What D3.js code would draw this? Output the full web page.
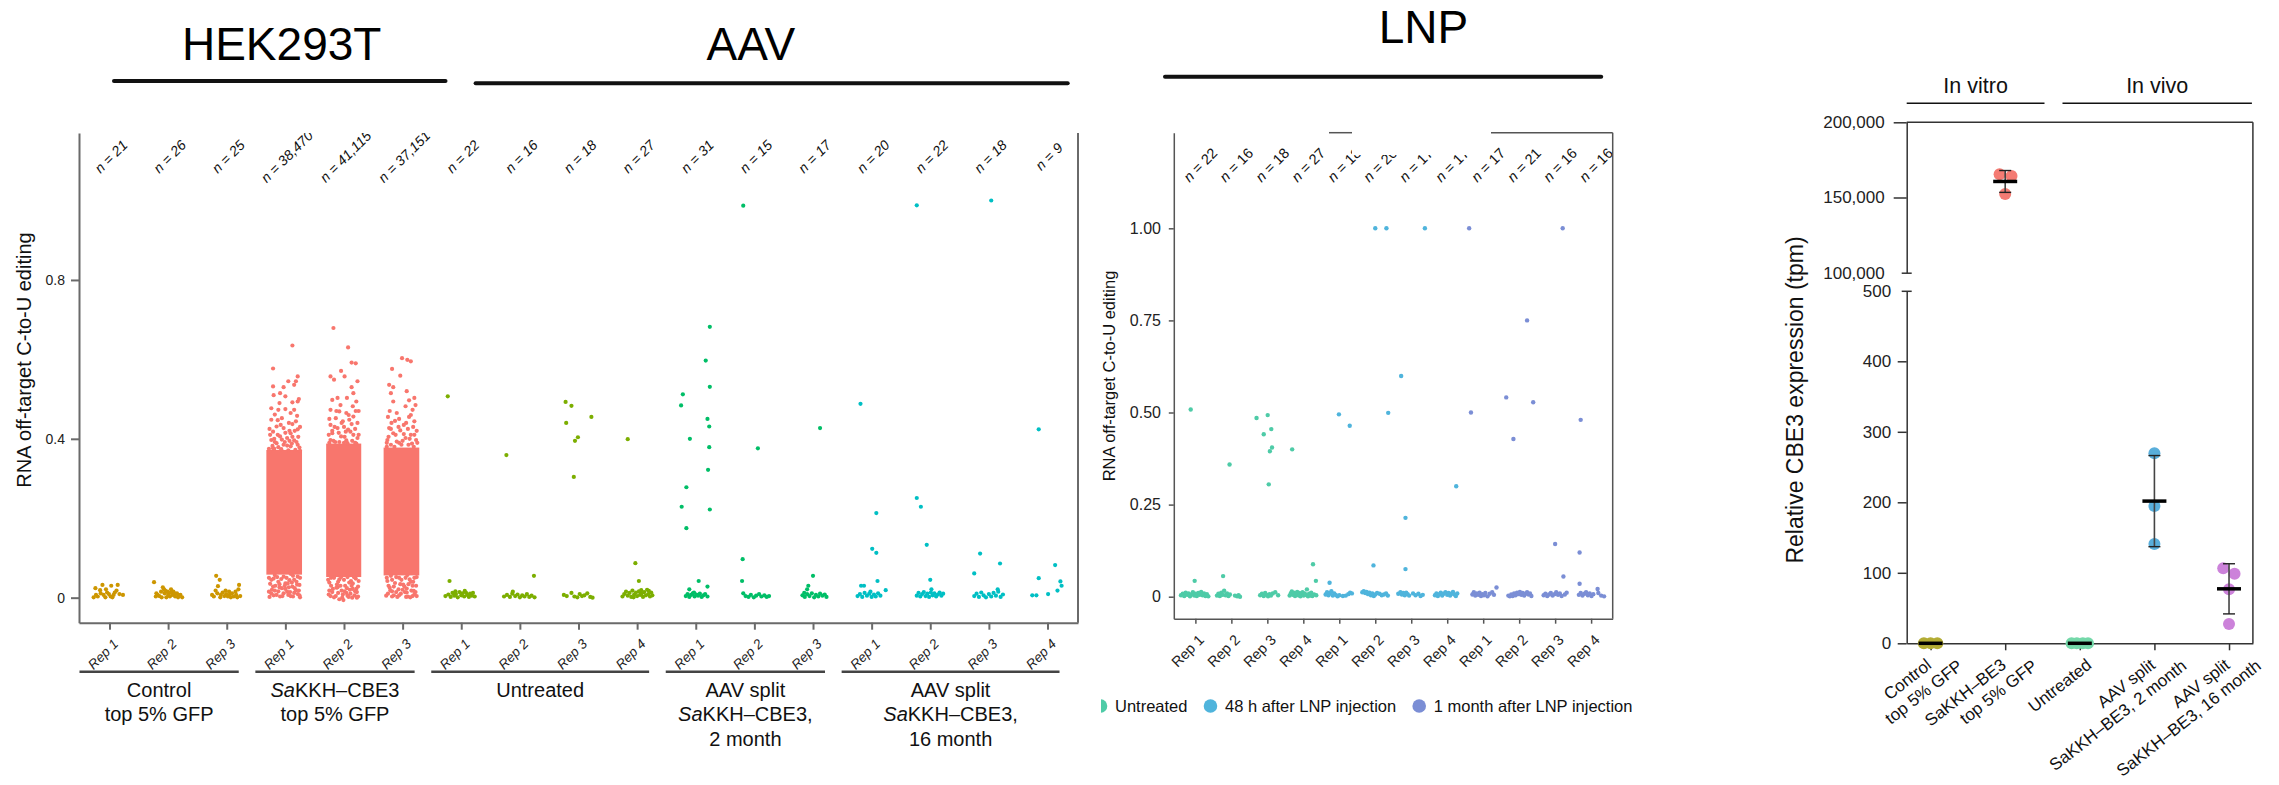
<!DOCTYPE html>
<html>
<head>
<meta charset="utf-8">
<script src="https://cdn.jsdelivr.net/npm/d3@7"></script>
<style>
  html, body { margin: 0; padding: 0; background: #fff; }
  svg { display: block; font-family: "Liberation Sans", Arial, Helvetica, sans-serif; }
</style>
</head>
<body>
<svg id="fig" width="2279" height="785"></svg>
<script>
// ================= DATA =================

// ---- Panel A: HEK293T and AAV samples, RNA off-target C-to-U editing ----
const repLabelsA = ["Rep 1","Rep 2","Rep 3","Rep 1","Rep 2","Rep 3","Rep 1","Rep 2","Rep 3","Rep 4",
                    "Rep 1","Rep 2","Rep 3","Rep 1","Rep 2","Rep 3","Rep 4"];
const siteCountsA = [21,26,25,38470,41115,37151,22,16,18,27,31,15,17,20,22,18,9];
const groupsA = [
  { lines: ["Control", "top 5% GFP"], reps: [0,1,2] },
  { lines: ["SaKKH–CBE3", "top 5% GFP"], reps: [3,4,5] },
  { lines: ["Untreated"], reps: [6,7,8,9] },
  { lines: ["AAV split", "SaKKH–CBE3,", "2 month"], reps: [10,11,12] },
  { lines: ["AAV split", "SaKKH–CBE3,", "16 month"], reps: [13,14,15,16] }
];
const groupColorsA = ["#CD9600", "#F8766D", "#7CAE00", "#00BE67", "#00BFC4"];
const yTicksA = [0, 0.4, 0.8];

// each point: [horizontal jitter in category steps, editing fraction]
const controlRep1 = [[-0.24,0.024],[-0.12,0.032],[0.03,0.03],[0.14,0.032],[0.23,0.007],[-0.15,0.011],[-0.2,0.003],
  [-0.07,0.001],[-0.04,0.013],[0.07,0.007],[0.09,0.013],[0.02,0.003],[-0.23,0.007],[-0.1,0.007],[0.12,0.018],
  [-0.01,0.009],[-0.16,0.019],[-0.06,0.021],[0.17,0.009],[-0.27,0.001],[0.05,0.001]];
const controlRep2 = [[-0.24,0.039],[-0.09,0.026],[0.05,0.021],[0.09,0.015],[0.18,0.007],[0.24,0.001],[-0.21,0.003],
  [-0.15,0.004],[-0.06,0.011],[-0.03,0.001],[0,0.007],[0.03,0.003],[0.12,0.003],[0.15,0.011],[0.21,0.007],
  [-0.12,0.015],[-0.18,0.007],[-0.07,0.021],[0.07,0.007],[-0.01,0.015],[0.17,0.001],[-0.11,0.001],[0.11,0.011],
  [-0.05,0.018],[0.04,0.013],[-0.2,0.011]];
const controlRep3 = [[-0.18,0.055],[-0.12,0.045],[-0.15,0.029],[0.21,0.032],[0.15,0.015],[0.2,0.021],[0.23,0.004],
  [-0.25,0.007],[-0.22,0.003],[-0.16,0.011],[-0.1,0.007],[-0.07,0.013],[-0.04,0.004],[-0.01,0.009],[0.02,0.003],
  [0.05,0.007],[0.09,0.011],[0.12,0.003],[0.16,0.007],[-0.19,0.018],[-0.02,0.018],[0.07,0.001],[-0.11,0.001],
  [0.04,0.015],[0.18,0.001]];

// SaKKH–CBE3 replicates: tens of thousands of sites form a solid band (core) plus scattered sites around it
const hekCoreA = [
  { rep: 3, jitter: [-0.29, 0.25], value: [0.058, 0.372] },
  { rep: 4, jitter: [-0.27, 0.26], value: [0.052, 0.388] },
  { rep: 5, jitter: [-0.29, 0.25], value: [0.056, 0.378] }
];
const hekRep1 = [[0.12,0.635],[-0.21,0.577],[0.21,0.557],[0.18,0.545],[0.05,0.545],[0.15,0.536],[-0.21,0.532],
  [-0.03,0.53],[-0.09,0.515],[0,0.507],[0.12,0.492],[0.21,0.494],[-0.24,0.477],[-0.12,0.473],[0,0.475],[0.09,0.465],
  [-0.18,0.461],[0.15,0.473],[-0.06,0.452],[-0.24,0.448],[0.18,0.444],[0.06,0.44],[-0.15,0.431],[-0.03,0.427],
  [-0.21,0.418],[0.21,0.424],[0.09,0.414],[-0.09,0.406],[0.03,0.402],[-0.24,0.397],[0.15,0.396],[-0.15,0.389],
  [-0.03,0.385],[0.09,0.381],[0.21,0.385],[-0.21,0.376],[-0.07,0.374],[0.05,0.371],[0.17,0.372],[-0.27,0.368],
  [0.24,0.378],[-0.18,0.392],[0.12,0.405],[-0.26,0.41],[0.2,0.458],[-0.1,0.49],[0.23,0.5],[-0.2,0.51],[0.07,0.42],
  [-0.13,0.447],
  [-0.28,0.375],[-0.22,0.382],[-0.12,0.379],[-0.01,0.392],[0.03,0.383],[0.11,0.388],[0.19,0.392],[0.25,0.37],
  [-0.19,0.4],[-0.06,0.398],[0.07,0.395],[0.22,0.405],[-0.13,0.41],[0,0.415],[0.16,0.42],[-0.27,0.425],
  [-0.08,0.435],[0.12,0.437],[0.25,0.43],[-0.19,0.375],
  [-0.18,0.057],[-0.03,0.053],[0.09,0.06],[0.21,0.053],[-0.24,0.045],[-0.12,0.04],[0,0.036],[0.15,0.045],
  [0.24,0.032],[-0.21,0.028],[-0.06,0.024],[0.06,0.026],[0.18,0.019],[-0.24,0.011],[-0.15,0.007],[-0.03,0.011],
  [0.09,0.004],[0.21,0.009],[-0.09,0.003],[0.03,0.015],[-0.18,0.018],[0.13,0.003],[-0.27,0.002],[0.25,0.001],
  [-0.1,0.034],[0.11,0.038],
  [-0.28,0.05],[-0.2,0.048],[-0.14,0.052],[-0.07,0.047],[0.02,0.05],[0.07,0.044],[0.13,0.055],[0.19,0.04],
  [0.25,0.05],[-0.26,0.035],[-0.17,0.03],[-0.1,0.026],[-0.01,0.03],[0.04,0.036],[0.12,0.028],[0.2,0.033],
  [-0.23,0.02],[-0.12,0.016],[0,0.022],[0.08,0.014],[0.16,0.024],[0.23,0.018],[-0.2,0.006],[-0.05,0.004],
  [0.05,0.007],[0.15,0.012],[-0.28,0.015],[0.24,0.006]];
const hekRep2 = [[-0.18,0.679],[0.07,0.63],[0.13,0.592],[0.2,0.59],[-0.05,0.571],[0.01,0.557],[-0.23,0.557],
  [-0.17,0.549],[0.23,0.545],[0.13,0.53],[0.16,0.515],[-0.2,0.498],[-0.11,0.503],[0.05,0.503],[0.21,0.494],
  [0.15,0.482],[-0.23,0.473],[-0.08,0.469],[0.04,0.465],[-0.14,0.452],[0.16,0.456],[-0.02,0.444],[-0.23,0.435],
  [0.23,0.44],[-0.11,0.427],[0.07,0.423],[-0.2,0.414],[0.16,0.41],[-0.05,0.406],[0.23,0.402],[-0.23,0.397],
  [0.04,0.396],[0.11,0.418],[-0.15,0.392],[0.19,0.39],[-0.26,0.41],[0,0.43],[0.25,0.47],[-0.06,0.485],[0.09,0.448],
  [-0.25,0.39],[-0.18,0.395],[-0.08,0.392],[0.01,0.405],[0.06,0.389],[0.14,0.395],[0.21,0.388],[0.25,0.41],
  [-0.2,0.42],[-0.09,0.415],[0.03,0.418],[0.19,0.425],[-0.16,0.43],[-0.04,0.44],[0.13,0.437],[-0.25,0.45],
  [0.08,0.46],[-0.13,0.47],[0.2,0.47],[0,0.39],
  [-0.22,0.05],[-0.08,0.046],[0.06,0.052],[0.2,0.048],[-0.25,0.038],[-0.12,0.033],[0.02,0.03],[0.15,0.036],
  [0.24,0.028],[-0.19,0.022],[-0.04,0.018],[0.1,0.02],[0.22,0.014],[-0.26,0.008],[-0.14,0.004],[-0.02,0.008],
  [0.08,0.002],[0.18,0.006],[-0.08,-0.004],[0.04,0.012],[-0.2,0.014],[0.14,0],[0.24,0.003],[-0.11,0.026],
  [0.12,0.042],[-0.01,-0.006],
  [-0.27,0.045],[-0.17,0.05],[-0.1,0.04],[0,0.045],[0.09,0.038],[0.17,0.052],[0.25,0.042],[-0.22,0.03],
  [-0.13,0.025],[-0.06,0.03],[0.05,0.024],[0.13,0.03],[0.21,0.022],[-0.25,0.018],[-0.1,0.012],[0.01,0.016],
  [0.11,0.01],[0.19,0.016],[-0.17,0.001],[-0.03,0],[0.06,0.005],[0.22,0],[-0.23,0.004],[0.15,0.022],[-0.05,0.052]];
const hekRep3 = [[-0.01,0.603],[0.08,0.599],[0.14,0.595],[-0.18,0.576],[-0.04,0.559],[-0.23,0.536],[-0.16,0.53],
  [0.2,0.503],[0.11,0.497],[-0.2,0.515],[0.05,0.482],[0.17,0.473],[-0.16,0.494],[-0.1,0.465],[-0.23,0.427],
  [0.02,0.435],[0.2,0.444],[0.11,0.455],[-0.16,0.414],[-0.04,0.421],[0.14,0.41],[-0.26,0.397],[0.05,0.402],
  [0.23,0.397],[-0.1,0.393],[-0.22,0.47],[0.22,0.485],[-0.06,0.45],[0.09,0.425],[-0.19,0.44],[0.16,0.388],
  [-0.02,0.385],[0.24,0.42],[-0.27,0.38],[0.07,0.52],
  [-0.27,0.39],[-0.2,0.385],[-0.14,0.38],[-0.06,0.39],[0,0.395],[0.1,0.385],[0.19,0.38],[0.25,0.39],
  [-0.24,0.405],[-0.12,0.41],[0.02,0.412],[0.12,0.4],[0.2,0.41],[-0.2,0.425],[-0.07,0.43],[0.06,0.44],
  [0.18,0.43],[-0.13,0.445],[0.14,0.46],[-0.25,0.455],
  [-0.2,0.055],[-0.06,0.05],[0.08,0.057],[0.2,0.05],[-0.26,0.042],[-0.13,0.037],[0.01,0.033],[0.14,0.04],
  [0.23,0.03],[-0.22,0.025],[-0.07,0.021],[0.07,0.023],[0.19,0.017],[-0.25,0.01],[-0.15,0.006],[-0.03,0.01],
  [0.09,0.003],[0.2,0.008],[-0.09,0.002],[0.04,0.014],[-0.18,0.016],[0.13,0.001],[0.24,0.004],
  [-0.27,0.05],[-0.18,0.045],[-0.11,0.052],[-0.02,0.045],[0.05,0.05],[0.12,0.046],[0.18,0.04],[0.24,0.052],
  [-0.24,0.03],[-0.15,0.028],[-0.04,0.034],[0.03,0.028],[0.1,0.034],[0.17,0.03],[-0.21,0.018],[-0.11,0.014],
  [0,0.02],[0.07,0.013],[0.15,0.018],[0.22,0.014],[-0.28,0.005],[-0.06,0.006],[0.06,0.002],[0.17,0.004],
  [-0.18,0.003]];

const untreatedRep1 = [[-0.23,0.507],[-0.2,0.042],[-0.27,0.004],[-0.22,0.008],[-0.18,0.002],[-0.15,0.012],
  [-0.12,0.005],[-0.09,0.009],[-0.06,0.001],[-0.03,0.014],[0,0.006],[0.02,0.011],[0.05,0.003],[0.08,0.013],
  [0.1,0.007],[0.13,0.002],[0.15,0.01],[0.18,0.005],[0.2,0.012],[0.23,0.003],[-0.1,0.016],[0.06,0.017]];
const untreatedRep2 = [[-0.23,0.359],[0.24,0.055],[-0.12,0.015],[-0.27,0.003],[-0.22,0.007],[-0.17,0.002],
  [-0.13,0.01],[-0.08,0.004],[-0.04,0.008],[0,0.001],[0.04,0.006],[0.08,0.003],[0.12,0.009],[0.16,0.002],
  [0.2,0.005],[0.25,0.001]];
const untreatedRep3 = [[-0.22,0.493],[-0.12,0.483],[-0.21,0.44],[0.22,0.455],[-0.01,0.404],[-0.06,0.395],
  [-0.08,0.304],[-0.2,0.004],[-0.12,0.012],[-0.07,0.003],[0.02,0.009],[0.1,0.006],[0.2,0.002],[0.24,0],
  [-0.25,0.007],[0.15,0.011],[-0.02,0.001],[0.06,0.004]];
const untreatedRep4 = [[-0.16,0.399],[-0.03,0.087],[0.03,0.042],[-0.25,0.003],[-0.22,0.009],[-0.19,0.015],
  [-0.16,0.005],[-0.13,0.012],[-0.1,0.002],[-0.08,0.018],[-0.05,0.008],[-0.02,0.013],[0,0.004],[0.03,0.016],
  [0.05,0.007],[0.08,0.011],[0.1,0.002],[0.12,0.014],[0.15,0.006],[0.17,0.02],[0.19,0.009],[0.22,0.003],
  [0.24,0.013],[0.26,0.006],[-0.06,0.001],[0.07,0.019],[0.2,0.017]];

const aav2mRep1 = [[-0.22,0.512],[-0.25,0.484],[-0.1,0.4],[0.24,0.682],[0.17,0.597],[0.24,0.531],[0.2,0.45],
  [0.23,0.431],[0.23,0.379],[0.21,0.322],[-0.16,0.278],[-0.24,0.229],[0.24,0.222],[-0.16,0.175],[0.05,0.042],
  [-0.11,0.021],[0.2,0.028],[-0.17,0.004],[-0.14,0.009],[-0.11,0.002],[-0.08,0.007],[-0.05,0.011],[-0.02,0.003],
  [0.01,0.008],[0.04,0.005],[0.07,0.01],[0.1,0.002],[0.13,0.006],[0.16,0.009],[0.2,0.003],[-0.03,0.013]];
const aav2mRep2 = [[-0.19,0.987],[0.06,0.376],[-0.2,0.097],[-0.21,0.042],[-0.19,0.011],[-0.15,0.004],[-0.1,0.002],
  [-0.06,0.007],[-0.01,0.001],[0.03,0.005],[0.08,0.009],[0.12,0.003],[0.17,0.006],[0.21,0.002],[0.25,0.004]];
const aav2mRep3 = [[0.12,0.427],[0,0.055],[-0.1,0.021],[-0.08,0.03],[-0.18,0.006],[-0.14,0.002],[-0.1,0.009],
  [-0.06,0.004],[-0.02,0.011],[0.02,0.001],[0.05,0.007],[0.09,0.003],[0.12,0.01],[0.16,0.005],[0.2,0.008],
  [0.23,0.002],[-0.15,0.012]];

const aav16mRep1 = [[-0.19,0.488],[0.08,0.213],[0.01,0.123],[0.08,0.113],[0.1,0.042],[0.24,0.019],[-0.18,0.03],
  [-0.13,0.03],[-0.24,0.004],[-0.2,0.009],[-0.16,0.002],[-0.12,0.012],[-0.08,0.005],[-0.04,0.01],[0,0.002],
  [0.04,0.008],[0.07,0.003],[0.11,0.011],[0.15,0.005],[-0.02,0.015]];
const aav16mRep2 = [[-0.23,0.988],[-0.23,0.251],[-0.16,0.229],[-0.06,0.133],[0,0.045],[0.02,0.021],[-0.23,0.005],
  [-0.2,0.012],[-0.17,0.003],[-0.14,0.009],[-0.11,0.014],[-0.08,0.004],[-0.05,0.01],[-0.02,0.002],[0.01,0.013],
  [0.04,0.006],[0.07,0.011],[0.1,0.003],[0.13,0.008],[0.16,0.013],[0.19,0.005],[0.22,0.01]];
const aav16mRep3 = [[0.04,1.0],[-0.15,0.111],[0.19,0.086],[-0.25,0.061],[0.15,0.021],[-0.25,0.004],[-0.21,0.01],
  [-0.17,0.002],[-0.13,0.013],[-0.09,0.006],[-0.05,0.001],[0,0.009],[0.04,0.003],[0.08,0.012],[0.12,0.005],
  [0.16,0.015],[0.2,0.002],[0.24,0.008]];
const aav16mRep4 = [[-0.15,0.424],[0.13,0.082],[-0.15,0.049],[0.22,0.041],[0.17,0.018],[-0.26,0.006],
  [-0.19,0.006],[0.01,0.009],[0.24,0.03]];

const pointsA = [controlRep1, controlRep2, controlRep3, hekRep1, hekRep2, hekRep3,
  untreatedRep1, untreatedRep2, untreatedRep3, untreatedRep4, aav2mRep1, aav2mRep2, aav2mRep3,
  aav16mRep1, aav16mRep2, aav16mRep3, aav16mRep4];

// ---- Panel B: LNP delivery ----
const repLabelsB = ["Rep 1","Rep 2","Rep 3","Rep 4","Rep 1","Rep 2","Rep 3","Rep 4","Rep 1","Rep 2","Rep 3","Rep 4"];
const siteCountsB = [22,16,18,27,18,20,17,17,17,21,16,16];
const conditionsB = ["Untreated", "48 h after LNP injection", "1 month after LNP injection"];
const conditionColorsB = ["#4ECBA7", "#4FB4DC", "#7B8ED5"];
const yTicksB = [0, 0.25, 0.5, 0.75, 1];

const lnpUntreated1 = [[-0.13,0.508],[-0.02,0.043],[-0.4,0.004],[-0.35,0.008],[-0.31,0.002],[-0.27,0.011],
  [-0.23,0.005],[-0.19,0.009],[-0.15,0.001],[-0.11,0.006],[-0.07,0.012],[-0.03,0.003],[0,0.008],[0.04,0.002],
  [0.08,0.01],[0.12,0.005],[0.16,0.013],[0.2,0.004],[0.24,0.009],[0.28,0.002],[0.32,0.007],[0.36,0.001]];
const lnpUntreated2 = [[-0.05,0.359],[-0.23,0.056],[-0.2,0.016],[-0.4,0.003],[-0.36,0.008],[-0.32,0.002],
  [-0.28,0.011],[-0.24,0.005],[-0.16,0.004],[-0.12,0.009],[-0.08,0.002],[-0.04,0.006],[0.1,0.003],[0.16,0.001],
  [0.2,0.004],[0.24,0]];
const lnpUntreated3 = [[-0.3,0.485],[0.01,0.493],[-0.1,0.441],[0.11,0.455],[0.13,0.405],[0.07,0.395],[0.04,0.305],
  [-0.2,0.004],[-0.15,0.008],[-0.1,0.002],[-0.06,0.01],[-0.02,0.005],[0.02,0.001],[0.06,0.007],[0.1,0.003],
  [0.15,0.009],[0.22,0.012],[0.3,0.004]];
const lnpUntreated4 = [[-0.31,0.4],[0.27,0.088],[0.35,0.043],[0.1,0.02],[-0.38,0.003],[-0.35,0.009],[-0.32,0.014],
  [-0.29,0.005],[-0.26,0.011],[-0.23,0.002],[-0.2,0.008],[-0.17,0.013],[-0.14,0.004],[-0.11,0.01],[-0.08,0.001],
  [-0.05,0.007],[-0.02,0.012],[0.01,0.003],[0.04,0.009],[0.07,0.005],[0.13,0.001],[0.16,0.008],[0.19,0.003],
  [0.22,0.011],[0.25,0.002],[0.3,0.006],[0.36,0.004]];
const lnp48h1 = [[-0.01,0.495],[0.29,0.464],[-0.27,0.038],[-0.38,0.006],[-0.34,0.012],[-0.3,0.004],[-0.26,0.01],
  [-0.22,0.015],[-0.18,0.003],[-0.14,0.009],[-0.1,0.005],[-0.05,0.001],[0,0.004],[0.1,0.002],[0.18,0.003],
  [0.25,0.007],[0.3,0.011],[0.35,0.009]];
const lnp48h2 = [[0,1.0],[0.31,1.0],[0.36,0.499],[-0.05,0.085],[-0.36,0.012],[-0.32,0.015],[-0.28,0.01],
  [-0.24,0.013],[-0.2,0.007],[-0.16,0.011],[-0.12,0.004],[-0.08,0.009],[-0.04,0.002],[0,0.006],[0.05,0.01],
  [0.12,0.008],[0.18,0.004],[0.24,0.006],[0.3,0.009],[0.35,0.003]];
const lnp48h3 = [[-0.28,0.599],[0.38,1.0],[-0.16,0.214],[-0.16,0.075],[-0.36,0.008],[-0.3,0.012],[-0.26,0.006],
  [-0.22,0.01],[-0.18,0.004],[-0.14,0.011],[-0.1,0.007],[-0.06,0.003],[0.05,0.009],[0.12,0.004],[0.2,0.008],
  [0.26,0.002],[0.32,0.005]];
const lnp48h4 = [[0.25,0.3],[-0.34,0.004],[-0.3,0.009],[-0.26,0.002],[-0.22,0.007],[-0.18,0.011],[-0.14,0.003],
  [-0.1,0.008],[-0.05,0.012],[0,0.005],[0.04,0.01],[0.08,0.003],[0.12,0.008],[0.16,0.013],[0.2,0.006],
  [0.24,0.002],[0.28,0.009]];
const lnp1mo1 = [[-0.39,1.0],[-0.34,0.5],[0.37,0.025],[-0.3,0.006],[-0.26,0.012],[-0.22,0.003],[-0.18,0.009],
  [-0.14,0.005],[-0.1,0.011],[-0.06,0.002],[-0.02,0.007],[0.02,0.004],[0.06,0.01],[0.12,0.001],[0.18,0.008],
  [0.25,0.012],[0.3,0.005]];
const lnp1mo2 = [[-0.36,0.541],[0.22,0.75],[0.39,0.528],[-0.16,0.428],[-0.3,0.003],[-0.26,0.001],[-0.22,0.006],
  [-0.18,0.002],[-0.14,0.009],[-0.1,0.004],[-0.06,0.011],[-0.02,0.007],[0.02,0.013],[0.06,0.005],[0.1,0.01],
  [0.14,0.003],[0.18,0.008],[0.22,0.012],[0.26,0.006],[0.3,0.009],[0.34,0.002]];
const lnp1mo3 = [[0.21,1.0],[0,0.143],[0.23,0.055],[-0.32,0.004],[-0.27,0.008],[-0.22,0.002],[-0.17,0.006],
  [-0.12,0.01],[-0.07,0.003],[-0.02,0.007],[0.03,0.012],[0.08,0.005],[0.13,0.009],[0.18,0.002],[0.27,0.006],
  [0.32,0.011]];
const lnp1mo4 = [[-0.29,0.48],[-0.32,0.12],[-0.32,0.035],[0.18,0.021],[-0.34,0.005],[-0.29,0.01],[-0.24,0.003],
  [-0.19,0.008],[-0.14,0.012],[-0.09,0.004],[-0.04,0.009],[0.01,0.002],[0.06,0.007],[0.2,0.01],[0.28,0.003],
  [0.36,0.001]];

const pointsB = [lnpUntreated1, lnpUntreated2, lnpUntreated3, lnpUntreated4, lnp48h1, lnp48h2, lnp48h3, lnp48h4,
  lnp1mo1, lnp1mo2, lnp1mo3, lnp1mo4];

// ---- Panel C: CBE3 transcript expression ----
const samplesC = [["Control", "top 5% GFP"], ["SaKKH–BE3", "top 5% GFP"], ["Untreated"],
  ["AAV split", "SaKKH–BE3, 2 month"], ["AAV split", "SaKKH–BE3, 16 month"]];
const tpmC = [[0, 0, 0], [165400, 164300, 152300], [0, 0, 0, 0], [269.5, 194.8, 140.8], [106.4, 98.7, 76.6, 27.4]];
const jitterC = [[-0.09, 0, 0.09], [-0.075, 0.085, 0], [-0.11, -0.04, 0.04, 0.11], [0, 0, 0], [-0.078, 0.074, 0, 0]];
const colorsC = ["#B3AC34", "#F47B73", "#74D8A9", "#59AEDB", "#CC82DA"];
const upperTicksC = [100000, 150000, 200000];
const lowerTicksC = [0, 100, 200, 300, 400, 500];
const settingsC = ["In vitro", "In vivo"];

// ================= DRAWING =================
const FONT = '"Liberation Sans", Arial, Helvetica, sans-serif';
const svg = d3.select("#fig");
const defs = svg.append("defs");

function styleAxis(g, color, width, size) {
  g.attr("font-family", FONT).attr("font-size", size);
  g.select(".domain").attr("stroke", color).attr("stroke-width", width);
  g.selectAll(".tick line").attr("stroke", color).attr("stroke-width", width);
  g.selectAll(".tick text").attr("fill", "#222");
}

// Write "SaKKH..." with the species prefix in italics
function richLine(sel, str) {
  if (str.startsWith("Sa")) {
    sel.append("tspan").attr("font-style", "italic").text("Sa");
    sel.append("tspan").text(str.slice(2));
  } else sel.text(str);
}

// ---------- Headers ----------
const headers = [
  { text: "HEK293T", cx: 281.7, base: 60, x0: 114, x1: 445.5, ly: 81 },
  { text: "AAV", cx: 750.8, base: 60, x0: 475.6, x1: 1067.7, ly: 83.3 },
  { text: "LNP", cx: 1423.5, base: 43.3, x0: 1165, x1: 1601.2, ly: 76.7 }
];
headers.forEach(h => {
  svg.append("text").attr("x", h.cx).attr("y", h.base).attr("text-anchor", "middle")
    .attr("font-size", 46).attr("fill", "#000").text(h.text);
  svg.append("line").attr("x1", h.x0).attr("x2", h.x1).attr("y1", h.ly).attr("y2", h.ly)
    .attr("stroke", "#111").attr("stroke-width", 4).attr("stroke-linecap", "round");
});

// ---------- Panel A ----------
const A = { l: 79, r: 1078, t: 133, b: 622.7 };
const xA = d3.scalePoint().domain(d3.range(repLabelsA.length)).range([A.l, A.r]).padding(0.52);
const yA = d3.scaleLinear().domain([-0.063, 1.17]).range([A.b, A.t]);
const stepA = xA.step();
const repGroupA = repLabelsA.map((_, i) => groupsA.findIndex(g => g.reps.includes(i)));

defs.append("clipPath").attr("id", "clipA").append("rect")
  .attr("x", A.l).attr("y", A.t).attr("width", A.r - A.l).attr("height", A.b - A.t);
const plotA = svg.append("g").attr("clip-path", "url(#clipA)");

plotA.selectAll("rect.core").data(hekCoreA).join("rect").attr("class", "core")
  .attr("x", d => xA(d.rep) + d.jitter[0] * stepA - 2)
  .attr("width", d => (d.jitter[1] - d.jitter[0]) * stepA + 4)
  .attr("y", d => yA(d.value[1]))
  .attr("height", d => yA(d.value[0]) - yA(d.value[1]))
  .attr("fill", groupColorsA[1]);

const flatA = [];
pointsA.forEach((arr, i) => arr.forEach(([j, v]) => flatA.push({ i, j, v })));
plotA.selectAll("circle").data(flatA).join("circle")
  .attr("cx", d => xA(d.i) + d.j * stepA)
  .attr("cy", d => yA(d.v))
  .attr("r", 2.1)
  .attr("fill", d => groupColorsA[repGroupA[d.i]]);

plotA.selectAll("text.n").data(siteCountsA).join("text").attr("class", "n")
  .attr("transform", (d, i) => `translate(${xA(i) + 5},160) rotate(-45)`)
  .attr("text-anchor", "middle").attr("font-size", 14).attr("font-style", "italic").attr("fill", "#111")
  .text(d => "n = " + d3.format(",")(d));

const axA = svg.append("g").attr("transform", `translate(${A.l},0)`)
  .call(d3.axisLeft(yA).tickValues(yTicksA).tickFormat(d3.format("")).tickSize(8).tickPadding(6).tickSizeOuter(0));
styleAxis(axA, "#6a6a6a", 2, 14);

const axAb = svg.append("g").attr("transform", `translate(0,${A.b})`)
  .call(d3.axisBottom(xA).tickFormat(i => repLabelsA[i]).tickSize(7).tickSizeOuter(0));
styleAxis(axAb, "#6a6a6a", 2, 13.5);
axAb.selectAll(".tick text").attr("y", 0).attr("dy", 0).attr("text-anchor", "end")
  .attr("font-style", "italic").attr("transform", "translate(9,22) rotate(-45)");

svg.append("line").attr("x1", A.r).attr("x2", A.r).attr("y1", A.t).attr("y2", A.b)
  .attr("stroke", "#6a6a6a").attr("stroke-width", 2);

svg.append("text").attr("transform", `translate(30.5,360) rotate(-90)`).attr("text-anchor", "middle")
  .attr("font-size", 20).attr("fill", "#111").text("RNA off-target C-to-U editing");

groupsA.forEach(g => {
  const x0 = xA(g.reps[0]) - 30, x1 = xA(g.reps[g.reps.length - 1]) + 12;
  svg.append("line").attr("x1", x0).attr("x2", x1).attr("y1", 671.7).attr("y2", 671.7)
    .attr("stroke", "#444").attr("stroke-width", 2.5);
  g.lines.forEach((ln, k) => {
    const t = svg.append("text").attr("x", (x0 + x1) / 2).attr("y", 696.7 + k * 24.5)
      .attr("text-anchor", "middle").attr("font-size", 20).attr("fill", "#111");
    richLine(t, ln);
  });
});

// ---------- Panel B ----------
const B = { l: 1173.8, r: 1612.7, t: 132.7, b: 618.7 };
const xB = d3.scalePoint().domain(d3.range(repLabelsB.length)).range([B.l, B.r]).padding(0.6);
const yB = d3.scaleLinear().domain([-0.0597, 1.2595]).range([B.b, B.t]);
const stepB = xB.step();
const condOfB = i => Math.floor(i / 4);

const flatB = [];
pointsB.forEach((arr, i) => arr.forEach(([j, v]) => flatB.push({ i, j, v })));
svg.append("g").selectAll("circle").data(flatB).join("circle")
  .attr("cx", d => xB(d.i) + d.j * stepB)
  .attr("cy", d => yB(d.v))
  .attr("r", 2.2)
  .attr("fill", d => conditionColorsB[condOfB(d.i)]);

svg.append("g").selectAll("text").data(siteCountsB).join("text")
  .attr("transform", (d, i) => `translate(${xB(i) + 8.5},168.5) rotate(-45)`)
  .attr("text-anchor", "middle").attr("font-size", 14.5).attr("fill", "#111")
  .each(function (d) {
    const t = d3.select(this);
    t.append("tspan").attr("font-style", "italic").text("n");
    t.append("tspan").text(" = " + d);
  });

// frame top is partly broken where the labels sit
svg.append("rect").attr("x", 1352).attr("y", 118).attr("width", 139).attr("height", 37).attr("fill", "#fff");
[[1329, 1352], [1491, B.r]].forEach(([a, b]) =>
  svg.append("line").attr("x1", a).attr("x2", b).attr("y1", B.t).attr("y2", B.t)
    .attr("stroke", "#555").attr("stroke-width", 1.5));

const axB = svg.append("g").attr("transform", `translate(${B.l},0)`)
  .call(d3.axisLeft(yB).tickValues(yTicksB).tickFormat(d => d === 0 ? "0" : d3.format(".2f")(d))
    .tickSize(5).tickPadding(7.8).tickSizeOuter(0));
styleAxis(axB, "#555", 1.5, 16);

const axBb = svg.append("g").attr("transform", `translate(0,${B.b})`)
  .call(d3.axisBottom(xB).tickFormat(i => repLabelsB[i]).tickSize(5).tickSizeOuter(0));
styleAxis(axBb, "#555", 1.5, 14.5);
axBb.selectAll(".tick text").attr("y", 0).attr("dy", 0).attr("text-anchor", "end")
  .attr("transform", "translate(9,22) rotate(-45)");

svg.append("line").attr("x1", B.r).attr("x2", B.r).attr("y1", B.t).attr("y2", B.b)
  .attr("stroke", "#555").attr("stroke-width", 1.5);

svg.append("text").attr("transform", `translate(1115,376) rotate(-90)`).attr("text-anchor", "middle")
  .attr("font-size", 16.5).attr("fill", "#111").text("RNA off-target C-to-U editing");

// legend
defs.append("clipPath").attr("id", "clipLegend").append("rect")
  .attr("x", 1101).attr("y", 680).attr("width", 600).attr("height", 60);
const legB = svg.append("g").attr("clip-path", "url(#clipLegend)");
let lx = 1100.5;
conditionsB.forEach((c, k) => {
  legB.append("circle").attr("cx", lx).attr("cy", 706).attr("r", 6.8).attr("fill", conditionColorsB[k]);
  const t = legB.append("text").attr("x", lx + 14.5).attr("y", 712).attr("font-size", 16.5)
    .attr("fill", "#111").text(c);
  lx += 14.5 + t.node().getComputedTextLength() + 23;
});

// ---------- Panel C ----------
const C = { l: 1906.7, r: 2252.9, t: 122.3, b: 643.3 };
const xC = d3.scalePoint().domain(d3.range(samplesC.length)).range([C.l, C.r]).padding(0.32);
const yHi = d3.scaleLinear().domain([100000, 200000]).range([272.7, C.t]);
const yLo = d3.scaleLinear().domain([0, 500]).range([C.b, 290.8]);
const yC = v => v > 500 ? yHi(v) : yLo(v);
const stepC = xC.step();

const axHi = svg.append("g").attr("transform", `translate(${C.l},0)`)
  .call(d3.axisLeft(yHi).tickValues(upperTicksC).tickFormat(d3.format(",")).tickSize(13).tickPadding(9).tickSizeOuter(0));
styleAxis(axHi, "#333", 1.5, 17);
const axLo = svg.append("g").attr("transform", `translate(${C.l},0)`)
  .call(d3.axisLeft(yLo).tickValues(lowerTicksC).tickSize(9).tickPadding(6.5).tickSizeOuter(0));
styleAxis(axLo, "#333", 1.5, 17);
// axis-break marks cross the axis
axHi.selectAll(".tick").filter(d => d === 100000).select("line").attr("x1", -5).attr("x2", 5);
axLo.selectAll(".tick").filter(d => d === 500).select("line").attr("x1", -5).attr("x2", 5);

const axCb = svg.append("g").attr("transform", `translate(0,${C.b})`)
  .call(d3.axisBottom(xC).tickFormat("").tickSize(7).tickSizeOuter(0));
styleAxis(axCb, "#333", 1.5, 17);
svg.append("line").attr("x1", C.l).attr("x2", C.r).attr("y1", C.t).attr("y2", C.t)
  .attr("stroke", "#333").attr("stroke-width", 1.5);
svg.append("line").attr("x1", C.r).attr("x2", C.r).attr("y1", C.t).attr("y2", C.b)
  .attr("stroke", "#333").attr("stroke-width", 1.5);

svg.append("text").attr("transform", `translate(1803,400) rotate(-90)`).attr("text-anchor", "middle")
  .attr("font-size", 23).attr("fill", "#111").text("Relative CBE3 expression (tpm)");

// setting headers
const midC = (xC(1) + xC(2)) / 2;
[[settingsC[0], C.l, midC + 2], [settingsC[1], midC + 20, C.r - 1]].forEach(([txt, a, b]) => {
  svg.append("line").attr("x1", a).attr("x2", b).attr("y1", 103.3).attr("y2", 103.3)
    .attr("stroke", "#111").attr("stroke-width", 1.5);
  svg.append("text").attr("x", (a + b) / 2).attr("y", 93.3).attr("text-anchor", "middle")
    .attr("font-size", 21.5).attr("fill", "#111").text(txt);
});

// points
const flatC = [];
tpmC.forEach((arr, i) => arr.forEach((v, k) => flatC.push({ i, v, j: jitterC[i][k] })));
svg.append("g").selectAll("circle").data(flatC).join("circle")
  .attr("cx", d => xC(d.i) + d.j * stepC)
  .attr("cy", d => yC(d.v))
  .attr("r", 6)
  .attr("fill", d => colorsC[d.i]);

// mean ± SD
tpmC.forEach((arr, i) => {
  const m = d3.mean(arr), sd = d3.deviation(arr) || 0;
  const x = xC(i);
  if (sd > 0) {
    svg.append("line").attr("x1", x).attr("x2", x).attr("y1", yC(m - sd)).attr("y2", yC(m + sd))
      .attr("stroke", "#444").attr("stroke-width", 1.6);
    [m - sd, m + sd].forEach(v => svg.append("line").attr("x1", x - 6).attr("x2", x + 6)
      .attr("y1", yC(v)).attr("y2", yC(v)).attr("stroke", "#222").attr("stroke-width", 1.4));
  }
  svg.append("line").attr("x1", x - 12).attr("x2", x + 12).attr("y1", yC(m)).attr("y2", yC(m))
    .attr("stroke", "#000").attr("stroke-width", 3.5);
});

// rotated sample labels; the second line ends a little further along and below the first
samplesC.forEach((lines, i) => {
  const dx = lines.length > 1 ? 2 : 13;
  const g = svg.append("g").attr("transform", `translate(${xC(i) + dx},667) rotate(-38)`)
    .attr("font-size", 17).attr("fill", "#111");
  g.append("text").attr("text-anchor", "end").text(lines[0]);
  lines.slice(1).forEach((ln, k) => g.append("text").attr("text-anchor", "end")
    .attr("x", 24 * (k + 1)).attr("y", 20 * (k + 1)).text(ln));
});
</script>
</body>
</html>
